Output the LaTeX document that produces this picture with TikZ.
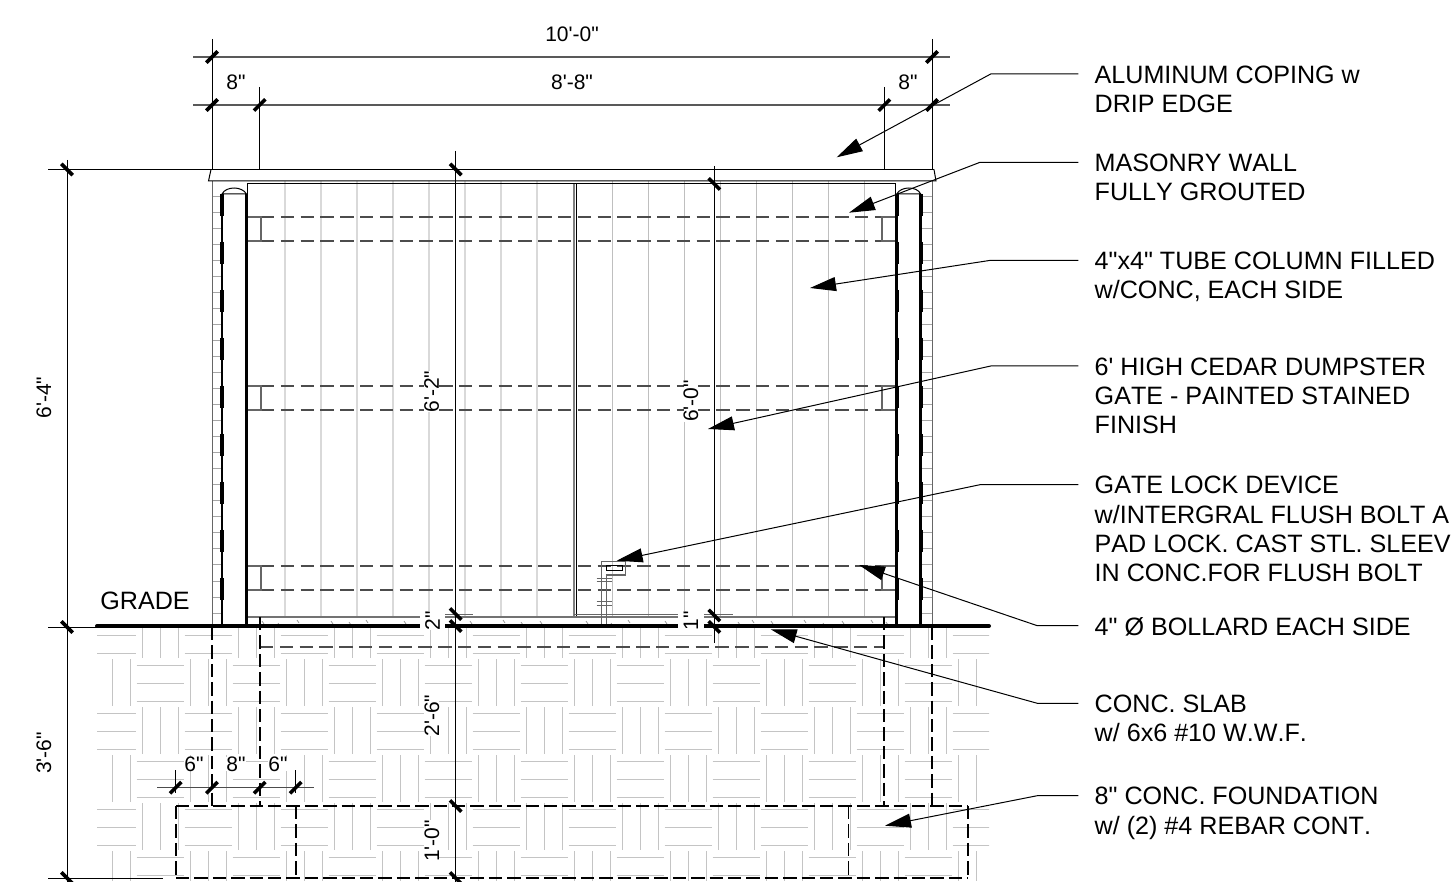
\documentclass[tikz,border=0pt]{standalone}
\usepackage{fontspec}
\setmainfont[Ligatures=TeXOff,Kerning=Off]{Liberation Sans}
\usetikzlibrary{arrows.meta}
\usetikzlibrary{calc}
\def\groundarea{(97,628) rectangle (989,880)}
\def\copingshape{(211,169.5) -- (208.5,181) -- (936,181) -- (934,169.5)}
\def\footingtop{(176,806) -- (968,806)}
\tikzset{
  hatchline/.style={black!23,line width=0.5pt},
  plankone/.style={black!15,line width=1pt},
  planktwo/.style={black!25,line width=0.5pt},
  thinline/.style={black,line width=0.5pt},
  dimline/.style={black!65,line width=0.65pt},
  brickline/.style={black!35,line width=0.5pt},
  railline/.style={black!70,line width=0.55pt,dash pattern=on 6.7pt off 3.2pt},
  slabline/.style={black!70,line width=0.8pt,dash pattern=on 6.7pt off 3.2pt},
  footline/.style={black,line width=0.56pt,dash pattern=on 6.7pt off 2.5pt},
  tickmark/.style={black,line width=1.8pt},
  leader/.style={black,line width=0.5pt,-{Triangle[length=13pt,width=7pt]}},
  notetext/.style={anchor=north west,inner sep=0pt,align=left,font=\fontsize{12.56}{14.65}\selectfont},
  dimtext/.style={inner sep=0pt,fill=white,font=\fontsize{10.5}{12}\selectfont},
  uptext/.style={dimtext,rotate=90},
  gapmask/.style={uptext,minimum height=12.6pt}
}
\begin{document}
\begin{tikzpicture}[x=0.5pt,y=-0.5pt]
  \useasboundingbox (0,0) rectangle (1453,882);
  \begin{scope}
    \clip \groundarea;
    \foreach \i in {0,...,18} \foreach \j in {0,...,5} {
      \pgfmathsetmacro{\cx}{88.7+48*\i}
      \pgfmathsetmacro{\cy}{611.3+48*\j}
      \pgfmathtruncatemacro{\odd}{mod(\i+\j,2)}
      \ifnum\odd=0
        \foreach \d in {6,24,42} \draw[hatchline] (\cx,\cy+\d) -- ++(47,0);
      \else
        \foreach \d in {6,24,42} \draw[hatchline] (\cx+\d,\cy) -- ++(0,47);
      \fi
    }
  \end{scope}

  \foreach \px in {284.7,320.7,356.7,392.7,428.7,464.7,500.7,536.7} \draw[plankone] (\px,181) -- (\px,617);
  \foreach \px in {612.7,648.7,684.7,720.7,756.7,792.7,828.7,864.7} \draw[planktwo] (\px,181) -- (\px,617);

  \foreach \ry in {217,386,566} {
    \draw[railline] (261,\ry) -- (882,\ry);
    \draw[railline] (261,\ry+24) -- (882,\ry+24);
    \draw[black!60,line width=0.9pt] (247,\ry) rectangle (261,\ry+24);
    \draw[black!60,line width=0.9pt] (882,\ry) rectangle (896,\ry+24);
  }

  \foreach \by in {197,213,...,613} {
    \draw[brickline] (212,\by) -- (222,\by);
    \draw[brickline] (921,\by) -- (932,\by);
  }
  \draw[black!60,line width=0.5pt] (212,181) -- (212,627);
  \draw[black!60,line width=0.5pt] (932,181) -- (932,627);

  \draw[thinline] (247,205) -- (247,184) -- (895.5,184) -- (895.5,205);
  \draw[black!50,line width=1pt] (574,184) -- (574,617);
  \draw[thinline] (576.7,184) -- (576.7,617);
  \draw[black!55,line width=0.6pt] (247,617) -- (895,617);
  \draw[black!60,line width=0.5pt] (445,614) -- (473,614);
  \draw[black!60,line width=0.5pt] (574,614) -- (678,614);
  \draw[black!60,line width=0.5pt] (704,614) -- (733,614);
  \foreach \sx/\sy in {262/621,278/623,297/620,312/624,331/621,349/622,366/620,385/624,404/621,
    470/621,486/624,503/620,521/622,540/621,558/624,586/621,611/623,628/620,647/624,665/621,
    738/622,752/620,771/621,786/624,804/620,823/623,842/621,857/624,871/620,886/622}
    \draw[black!40,line width=0.4pt] (\sx,\sy) -- ++(2,3);

  \draw[black!60,line width=0.6pt] (601.7,626) -- (601.7,561.7) -- (625.7,561.7) -- (625.7,575) -- (606.7,575) -- (606.7,626);
  \draw[thinline] (606,565.7) rectangle (622.7,570.3);
  \foreach \ly in {578,581,601.7,605} \draw[black!60,line width=0.4pt] (596.7,\ly) -- (612.3,\ly);

  \foreach \bx in {222,246.5,896.7,920.7} {
    \draw[black,line width=1.3pt] (\bx,194) -- (\bx,627);
    \draw[black,line width=1.9pt,dash pattern=on 11pt off 13pt] (\bx,194) -- (\bx,627);
  }
  \draw[thinline] (222,194) .. controls (226,186) and (242,186) .. (246.5,194) -- cycle;
  \draw[thinline] (896.7,194) .. controls (901,186) and (917,186) .. (920.7,194) -- cycle;

  \draw[slabline] (260,647) -- (884,647);
  \draw[footline] (260,617) -- (260,806);
  \draw[footline] (884,617) -- (884,806);
  \draw[footline] (212,627) -- (212,806);
  \draw[footline] (932,627) -- (932,806);
  \draw[footline] \footingtop;
  \draw[footline] (176,878) -- (968,878);
  \draw[footline] (176,806) -- (176,878);
  \draw[footline] (968,806) -- (968,878);
  \draw[footline] (296,806) -- (296,878);
  \draw[footline] (848.3,806) -- (848.3,878);

  \draw[black,line width=2pt,line cap=round] (97,626) -- (989,626);

  \draw[thinline] (48,169.5) -- (934,169.5);
  \draw[thinline] \copingshape;
  \draw[thinline] (212,39) -- (212,170);
  \draw[thinline] (932,39) -- (932,170);
  \draw[thinline] (259.7,87) -- (259.7,170);
  \draw[thinline] (884.3,87) -- (884.3,170);
  \draw[dimline] (193,57) -- (950,57);
  \draw[dimline] (193,105) -- (950,105);
  \draw[thinline] (48,627) -- (97,627);
  \draw[thinline] (48,878) -- (163,878);
  \draw[thinline] (67,160) -- (67,882);
  \draw[thinline] (455.7,151) -- (455.7,882);
  \draw[thinline] (714.3,166) -- (714.3,643);
  \draw[black!70,line width=0.5pt] (157,787.7) -- (314,787.7);
  \draw[thinline] (175.7,770) -- (175.7,793);
  \draw[thinline] (295.7,770) -- (295.7,793);

  \node[dimtext] (wholeWidth) at (572,34) {10'-0"};
  \node[dimtext] (leftPier) at (236,82) {8"};
  \node[dimtext] (gateWidth) at (572,82) {8'-8"};
  \node[dimtext] (rightPier) at (908,82) {8"};
  \node[uptext] (wallHeight) at (44,397.5) {6'-4"};
  \node[uptext] (footDepth) at (44,753) {3'-6"};
  \node[uptext] (gateOneHeight) at (431.7,391.5) {6'-2"};
  \node[uptext] (gateTwoHeight) at (691,400.8) {6'-0"};
  \node[gapmask] (gapOne) at (432.5,620.5) {2"};
  \node[gapmask] (gapTwo) at (691,620.5) {1"};
  \node[uptext] (stemDepth) at (432,715.5) {2'-6"};
  \node[uptext] (footThick) at (432,841) {1'-0"};
  \node[dimtext] (footLeft) at (194,764) {6"};
  \node[dimtext] (stemWidth) at (236,764) {8"};
  \node[dimtext] (footRight) at (278,764) {6"};
  \node[notetext,anchor=center] (grade) at (145,600.5) {GRADE};

  \foreach \tx/\ty in {212/57,932/57,212/105,259.7/105,884.3/105,932/105,175.7/787.7,212/787.7,259.7/787.7,295.7/787.7}
    \draw[tickmark] (\tx-5.7,\ty+5.7) -- (\tx+5.7,\ty-5.7);
  \foreach \tx/\ty in {67/169.5,67/627,67/878,455.7/169.5,455.7/614,455.7/626,455.7/806,455.7/878,714.3/184,714.3/615.5,714.3/627}
    \draw[tickmark] (\tx-5.7,\ty-5.7) -- (\tx+5.7,\ty+5.7);

  \node[notetext] (coping) at (1094.3,65.3) {ALUMINUM COPING w\\DRIP EDGE};
  \node[notetext] (wall) at (1094.3,153.6) {MASONRY WALL\\FULLY GROUTED};
  \node[notetext] (tube) at (1094.3,251.6) {4"x4" TUBE COLUMN FILLED\\w/CONC, EACH SIDE};
  \node[notetext] (cedar) at (1094.3,357.3) {6' HIGH CEDAR DUMPSTER\\GATE - PAINTED STAINED\\FINISH};
  \node[notetext] (lock) at (1094.3,476) {GATE LOCK DEVICE\\w/INTERGRAL FLUSH BOLT A\\PAD LOCK. CAST STL. SLEEV\\IN CONC.FOR FLUSH BOLT};
  \node[notetext] (bollard) at (1094.3,617) {4" Ø BOLLARD EACH SIDE};
  \node[notetext] (slab) at (1094.3,694.6) {CONC. SLAB\\w/ 6x6 \#10 W.W.F.};
  \node[notetext] (footing) at (1094.3,787) {8" CONC. FOUNDATION\\w/ (2) \#4 REBAR CONT.};

  \coordinate (copingBend) at (990.7,74);
  \coordinate (copingTip) at (836.7,157.3);
  \coordinate (wallBend) at (980,162.3);
  \coordinate (wallTip) at (849,212.7);
  \coordinate (tubeBend) at (990.7,260.3);
  \coordinate (tubeTip) at (810,288);
  \coordinate (cedarBend) at (990.7,366);
  \coordinate (cedarTip) at (708,429);
  \coordinate (lockBend) at (980,484.7);
  \coordinate (lockTip) at (616.7,560.7);
  \coordinate (bollardBend) at (1037.3,625.7);
  \coordinate (bollardTip) at (859,565);
  \coordinate (slabBend) at (1037.3,703.3);
  \coordinate (slabTip) at (770.7,629.3);
  \coordinate (footingBend) at (1037.3,795.7);
  \coordinate (footingTip) at (885,825.7);

  \foreach \lbl in {coping,wall,tube,cedar,lock,bollard,slab,footing}
    \draw[leader] ([xshift=-8pt]\lbl.west |- \lbl Bend) -- (\lbl Bend) -- (\lbl Tip);
\end{tikzpicture}
\end{document}
